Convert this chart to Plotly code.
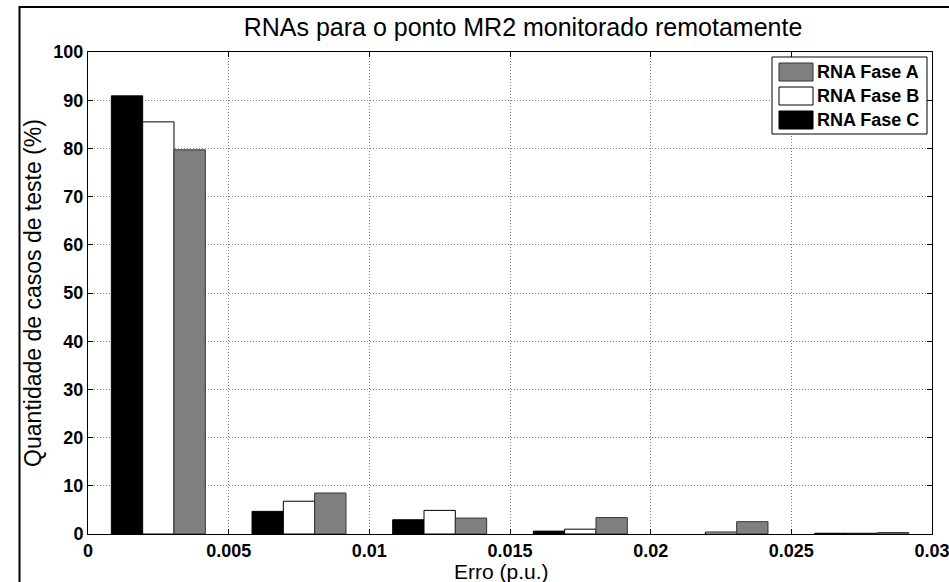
import plotly.graph_objects as go

# Data
bin_centers = [0.0025, 0.0075, 0.0125, 0.0175, 0.0225, 0.0275]
fase_a = [79.7, 8.5, 3.3, 3.4, 2.55, 0.3]
fase_b = [85.5, 6.8, 4.9, 1.0, 0.4, 0.15]
fase_c = [90.9, 4.7, 2.95, 0.6, 0.0, 0.15]
x_ticks = [0, 0.005, 0.01, 0.015, 0.02, 0.025, 0.03]
x_tick_labels = ["0", "0.005", "0.01", "0.015", "0.02", "0.025", "0.03"]
y_ticks = [0, 10, 20, 30, 40, 50, 60, 70, 80, 90, 100]
series_names = ["RNA Fase A", "RNA Fase B", "RNA Fase C"]

FONT = "Liberation Sans, Arial, sans-serif"
FILL = {"RNA Fase A": "#808080", "RNA Fase B": "#ffffff", "RNA Fase C": "#000000"}
EDGE = {"RNA Fase A": "#333333", "RNA Fase B": "#000000", "RNA Fase C": "#000000"}

W, H = 949, 582
ML, MR, MT, MB = 88, 17, 52, 48
PW, PH = W - ML - MR, H - MT - MB


def px_x(px):
    return (px - ML) / PW


def px_y(py):
    return 1 - (py - MT) / PH


def edge_widths(vals):
    return [1 if v > 0 else 0 for v in vals]


values = {"RNA Fase A": fase_a, "RNA Fase B": fase_b, "RNA Fase C": fase_c}

fig = go.Figure()
for name in ["RNA Fase C", "RNA Fase B", "RNA Fase A"]:
    fig.add_trace(go.Bar(x=bin_centers, y=values[name], name=name, showlegend=False,
                         marker=dict(color=FILL[name],
                                     line=dict(color=EDGE[name], width=edge_widths(values[name])))))

axis_common = dict(
    showline=True, linecolor="#000000", linewidth=1, mirror="ticks",
    ticks="inside", ticklen=5, tickcolor="#000000",
    showgrid=True, gridcolor="#808080", griddash="1px,2px", gridwidth=1,
    zeroline=False, automargin=False, ticklabeloverflow="allow",
    tickfont=dict(family=FONT, size=18, color="#000000", weight="bold"),
)

fig.update_xaxes(range=[0, 0.03], tickvals=x_ticks, ticktext=x_tick_labels,
                 title=dict(text=""), **axis_common)
fig.update_yaxes(range=[0, 100], tickvals=y_ticks,
                 title=dict(text="Quantidade de casos de teste (%)", standoff=5,
                            font=dict(family=FONT, size=23, color="#000000")),
                 **axis_common)

# Outer figure frame and MATLAB-style legend box with wide swatches
shapes = [dict(type="rect", xref="paper", yref="paper",
               x0=px_x(19.5), x1=px_x(960), y0=px_y(620), y1=px_y(7),
               line=dict(color="#000000", width=2), fillcolor="rgba(0,0,0,0)", layer="below"),
          dict(type="rect", xref="paper", yref="paper",
               x0=px_x(772), x1=px_x(927), y0=px_y(134), y1=px_y(57),
               line=dict(color="#000000", width=1), fillcolor="#ffffff", layer="above")]
annotations = [dict(text="Erro (p.u.)", xref="paper", yref="paper",
                    x=px_x(501), y=px_y(571), xanchor="center", yanchor="middle",
                    showarrow=False, font=dict(family=FONT, size=21, color="#000000"))]
swatch_top = [63, 87, 111]
for i, name in enumerate(series_names):
    top = swatch_top[i]
    shapes.append(dict(type="rect", xref="paper", yref="paper",
                       x0=px_x(779), x1=px_x(813), y0=px_y(top + 18), y1=px_y(top),
                       line=dict(color=EDGE[name], width=1),
                       fillcolor=FILL[name], layer="above"))
    annotations.append(dict(text=name, xref="paper", yref="paper",
                            x=px_x(815), y=px_y(top + 9), xanchor="left", yanchor="middle",
                            showarrow=False,
                            font=dict(family=FONT, size=18, color="#000000", weight="bold")))

fig.update_layout(
    width=W, height=H,
    margin=dict(l=ML, r=MR, t=MT, b=MB),
    paper_bgcolor="#ffffff", plot_bgcolor="#ffffff",
    barmode="group", bargap=0.332, bargroupgap=0,
    showlegend=False,
    title=dict(text="RNAs para o ponto MR2 monitorado remotamente",
               x=px_x(523), xref="paper", xanchor="center", y=1 - 27 / H, yanchor="middle",
               font=dict(family=FONT, size=25, color="#000000")),
    shapes=shapes,
    annotations=annotations,
)

fig.write_html("out.html", config={"displayModeBar": False},
               post_script="document.body.style.margin='0';")
